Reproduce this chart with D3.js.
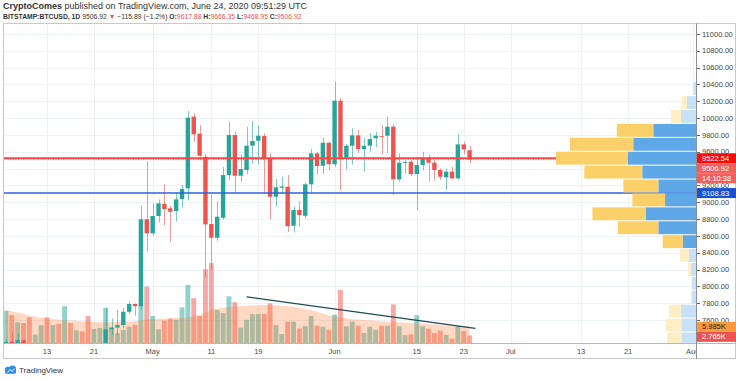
<!DOCTYPE html>
<html><head><meta charset="utf-8">
<script src="https://cdn.jsdelivr.net/npm/d3@7"></script>
<style>body{margin:0;background:#fff}svg{display:block}text{font-family:"Liberation Sans",Arial,sans-serif}</style>
</head><body><svg id="c" width="736" height="379"></svg>
<script>
const dates = ["2020-04-06","2020-04-07","2020-04-08","2020-04-09","2020-04-10","2020-04-11","2020-04-12","2020-04-13","2020-04-14","2020-04-15","2020-04-16","2020-04-17","2020-04-18","2020-04-19","2020-04-20","2020-04-21","2020-04-22","2020-04-23","2020-04-24","2020-04-25","2020-04-26","2020-04-27","2020-04-28","2020-04-29","2020-04-30",
"2020-05-01","2020-05-02","2020-05-03","2020-05-04","2020-05-05","2020-05-06","2020-05-07","2020-05-08","2020-05-09","2020-05-10","2020-05-11","2020-05-12","2020-05-13","2020-05-14","2020-05-15","2020-05-16","2020-05-17","2020-05-18","2020-05-19","2020-05-20","2020-05-21","2020-05-22","2020-05-23","2020-05-24","2020-05-25","2020-05-26","2020-05-27","2020-05-28","2020-05-29","2020-05-30","2020-05-31",
"2020-06-01","2020-06-02","2020-06-03","2020-06-04","2020-06-05","2020-06-06","2020-06-07","2020-06-08","2020-06-09","2020-06-10","2020-06-11","2020-06-12","2020-06-13","2020-06-14","2020-06-15","2020-06-16","2020-06-17","2020-06-18","2020-06-19","2020-06-20","2020-06-21","2020-06-22","2020-06-23","2020-06-24"];
const open = [6775,7340,7190,7360,7290,6865,6880,6910,6855,6860,6630,7110,7035,7255,7130,6845,6860,7125,7490,7510,7540,7698,7790,7765,8797,
8630,8836,8982,8927,8896,9038,9165,10017,9815,9541,8741,8578,8815,9323,9799,9315,9383,9672,9731,9787,9514,9065,9172,9184,8720,8907,8839,9213,9581,9434,9707,
9451,10207,9530,9672,9795,9629,9672,9760,9785,9791,9898,9272,9470,9482,9335,9442,9530,9470,9383,9296,9363,9284,9688,9617.88];
const high = [7371,7460,7430,7370,7300,6940,7200,6920,6985,6940,7195,7150,7300,7265,7220,6940,7150,7750,7620,7720,7745,7817,7798,8960,9490,
8990,9034,9213,8955,9117,9205,10084,10057,9918,9574,9086,9006,9422,9957,9840,9570,9898,9966,9910,9819,9581,9276,9303,9323,8950,9014,9230,9633,9600,9767,9720,
10433,10235,9690,9879,9858,9767,9826,9838,9918,10017,9926,9581,9500,9500,9541,9600,9560,9500,9400,9400,9420,9807,9719,9666.35];
const low = [6763,7080,7150,7115,6750,6780,6800,6560,6775,6620,6465,7000,7025,7060,6785,6810,6835,7030,7420,7420,7500,7670,7650,7730,8411,
8600,8760,8729,8530,8768,8940,9020,9720,9500,8114,8200,8540,8790,9260,9118,9244,9332,9463,9451,9106,8800,8947,9094,8649,8642,8708,8810,9118,9332,9332,9383,
9420,9137,9391,9450,9590,9363,9600,9653,9570,9581,9086,9244,9344,9312,8907,9380,9244,9260,9264,9145,9280,9270,9570,9468.95];
const close = [7340,7190,7360,7290,6865,6880,6910,6855,6860,6630,7110,7035,7255,7130,6845,6860,7125,7490,7510,7540,7698,7790,7765,8797,8630,
8836,8987,8919,8887,9034,9157,10005,9807,9553,8737,8578,8828,9323,9799,9315,9394,9672,9728,9791,9522,9065,9177,9188,8716,8907,8848,9213,9581,9430,9707,9451,
10207,9530,9672,9795,9633,9672,9751,9791,9775,9898,9272,9470,9480,9335,9442,9530,9470,9383,9303,9363,9284,9688,9629,9506.92];
const volumeK = [11.9,10.3,7.7,7.4,9.5,3.1,6.6,9.5,6.6,7.1,13.6,7.4,4.7,4.3,10.0,5.2,5.6,13.0,5.6,3.6,4.8,6.0,6.7,14.0,20.9,
10.0,5.1,8.3,9.0,8.6,13.2,21.5,16.6,10.0,27.3,29.6,12.2,11.1,17.3,15.1,5.7,8.6,10.7,10.7,10.7,14.7,6.6,3.3,7.9,7.9,5.3,6.2,10.0,6.4,6.0,4.9,
10.5,19.6,6.2,7.9,6.4,3.7,6.0,4.9,6.4,6.4,14.3,6.2,2.9,3.2,10.3,6.2,5.3,3.7,4.6,3.0,1.6,6.2,4.4,2.765];
const volumeMA = [12.2,11.8,11.3,10.8,10.2,9.7,9.4,
9.1,8.9,8.6,8.5,8.3,8.2,8.0,7.9,7.8,7.7,
7.7,7.7,7.8,7.8,7.9,8.1,8.4,8.7,8.9,9.0,
9.1,9.2,9.3,9.3,9.4,9.8,10.4,11.4,12.4,12.8,
13.1,13.3,13.5,13.6,13.8,13.9,14.0,14.1,14.1,14.0,
13.8,13.6,13.4,13.1,12.6,12.1,11.6,11.0,10.3,9.7,
9.4,9.2,8.9,8.7,8.5,8.4,8.2,8.1,7.9,7.8,
7.7,7.6,7.4,7.3,7.2,7.0,6.9,6.7,6.5,6.3,
6.2,6.0,5.985];
const priceTicks = [11000,10800,10600,10400,10200,10000,9800,9600,9400,9200,9000,8800,8600,8400,8200,8000,7800,7600];
const timeTickDates = ["2020-04-13","2020-04-21","2020-05-01","2020-05-11","2020-05-19","2020-06-01","2020-06-15","2020-06-23","2020-07-01","2020-07-13","2020-07-21","2020-08-01"];
const timeTickLabels = ["13","21","May","11","19","Jun","15","23","Jul","13","21","Aug"];
// volume profile rows (from top of range), up / down volume
const vpUp = [1.9,6.6,10.7,30.5,44.8,48.8,38.4,26.9,22.1,35.9,26.9,9.5,5.0,3.8,2.9,3.1,10.9,10.5,10.0];
const vpDown = [0,3.6,7.1,26.1,45.2,51.2,41.4,25.0,23.4,38.1,28.8,14.3,6.4,2.1,0.4,0.7,8.4,10.9,10.7];
const vpRows = 24;
const vpValueArea = [3,11];
const resistance = 9522.54, support = 9108.83;
const lastPrice = 9506.92, countdown = "14:10:38";
const trendDates = ["2020-05-17","2020-06-25"], trendVols = [17.1,5.4];

const svg = d3.select("#c");
const P = {l:3, r:696, t:24, b:343};
const parse = d3.utcParse("%Y-%m-%d");
const x = d3.scaleUtc().domain([parse("2020-04-13"), parse("2020-07-01")]).range([47, 510.7]);
const y = d3.scaleLinear().domain([7600, 11000]).range([320, 34]);
const yv = d3.scaleLinear().domain([0, 30]).range([P.b, 262]);
const data = dates.map((d,i)=>({t:parse(d),o:open[i],h:high[i],l:low[i],c:close[i],v:volumeK[i],ma:volumeMA[i]}));

const defs = svg.append("defs");
defs.append("clipPath").attr("id","pane").append("rect").attr("x",P.l).attr("y",P.t).attr("width",P.r-P.l).attr("height",P.b-P.t);
defs.append("clipPath").attr("id","taxis").append("rect").attr("x",P.l).attr("y",P.b).attr("width",P.r-P.l).attr("height",16);

// header
const h1 = svg.append("text").attr("x",3).attr("y",9).attr("font-size",9).attr("fill","#333");
h1.append("tspan").attr("font-weight","bold").text("CryptoComes");
h1.append("tspan").text(" published on TradingView.com, June 24, 2020 09:51:29 UTC");
const h2 = svg.append("text").attr("x",3).attr("y",18.5).attr("font-size",6.8).attr("fill","#333");
h2.append("tspan").attr("font-weight","bold").text("BITSTAMP:BTCUSD, 1D");
h2.append("tspan").text(" 9506.92 ");
h2.append("tspan").attr("fill","#ef5350").text("▼");
h2.append("tspan").text(" −115.89 (−1.2%) ");
[["O:","9617.88"],["H:","9666.35"],["L:","9468.95"],["C:","9506.92"]].forEach(([k,v],i)=>{
  h2.append("tspan").attr("font-weight","bold").text((i?" ":"")+k);
  h2.append("tspan").attr("fill","#ef5350").text(v);
});

// grid
const g = svg.append("g");
g.selectAll(".hg").data(priceTicks).join("line").attr("x1",P.l).attr("x2",P.r)
  .attr("y1",d=>Math.round(y(d))+0.5).attr("y2",d=>Math.round(y(d))+0.5).attr("stroke","#eef1f6");
g.selectAll(".vg").data(timeTickDates).join("line").attr("y1",P.t).attr("y2",P.b)
  .attr("x1",d=>Math.round(x(parse(d)))+0.5).attr("x2",d=>Math.round(x(parse(d)))+0.5).attr("stroke","#eef1f6");

const pane = svg.append("g").attr("clip-path","url(#pane)");
// volume bars
pane.selectAll(".vb").data(data).join("rect")
  .attr("x",d=>x(d.t)-2.45).attr("width",4.9).attr("y",d=>yv(d.v)).attr("height",d=>P.b-yv(d.v))
  .attr("fill",d=>d.c>=d.o?"rgba(38,166,154,0.5)":"rgba(239,83,80,0.5)");
// volume MA area
pane.append("path").datum(data).attr("fill","rgba(255,120,40,0.28)")
  .attr("d",d3.area().x(d=>x(d.t)).y0(P.b).y1(d=>yv(d.ma)));
// trend line
pane.append("line").attr("x1",x(parse(trendDates[0]))).attr("y1",yv(trendVols[0]))
  .attr("x2",x(parse(trendDates[1]))).attr("y2",yv(trendVols[1])).attr("stroke","#1d4b57").attr("stroke-width",1.4);
// candles
const cg = pane.append("g");
cg.selectAll(".wk").data(data).join("line")
  .attr("x1",d=>Math.round(x(d.t))+0.5).attr("x2",d=>Math.round(x(d.t))+0.5)
  .attr("y1",d=>y(d.h)).attr("y2",d=>y(d.l))
  .attr("stroke",d=>d.c>=d.o?"#26a69a":"#ef5350").attr("stroke-opacity",0.6);
cg.selectAll(".bd").data(data).join("rect")
  .attr("x",d=>x(d.t)-2.2).attr("width",4.4)
  .attr("y",d=>Math.min(y(d.o),y(d.c))).attr("height",d=>Math.max(1,Math.abs(y(d.o)-y(d.c))))
  .attr("fill",d=>d.c>=d.o?"#26a69a":"#ef5350");
// horizontal levels
pane.append("line").attr("x1",P.l).attr("x2",P.r).attr("y1",y(resistance)).attr("y2",y(resistance)).attr("stroke","#f44848").attr("stroke-width",2);
pane.append("line").attr("x1",P.l).attr("x2",P.r).attr("y1",y(lastPrice)).attr("y2",y(lastPrice)).attr("stroke","#ef5350").attr("stroke-dasharray","1,1.5").attr("stroke-opacity",0.7);
pane.append("line").attr("x1",P.l).attr("x2",P.r).attr("y1",y(support)).attr("y2",y(support)).attr("stroke","#2d62e0").attr("stroke-width",1.5);

// volume profile
const vpHi = d3.max(high), vpLo = d3.min(low), step = (vpHi-vpLo)/vpRows;
const wS = d3.scaleLinear().domain([0,100]).range([0,140]);
const vp = pane.append("g");
vpUp.forEach((u,i)=>{
  const top = y(vpHi - i*step), bot = y(vpHi-(i+1)*step);
  const inVA = i>=vpValueArea[0] && i<=vpValueArea[1];
  const dn = vpDown[i];
  vp.append("rect").attr("x",P.r-wS(u)).attr("width",wS(u)).attr("y",top+0.5).attr("height",bot-top-1)
    .attr("fill",inVA?"#5ea8e8":"#c8e1f7");
  if(dn>0) vp.append("rect").attr("x",P.r-wS(u+dn)).attr("width",wS(dn)).attr("y",top+0.5).attr("height",bot-top-1)
    .attr("fill",inVA?"#fbd068":"#fdeec4");
});

// frame
svg.append("rect").attr("x",3.5).attr("y",23.5).attr("width",732).attr("height",335).attr("fill","none").attr("stroke","#c9c9c9");
svg.append("line").attr("x1",3).attr("x2",736).attr("y1",343.5).attr("y2",343.5).attr("stroke","#b8b8b8");
svg.append("line").attr("x1",696.5).attr("x2",696.5).attr("y1",23.5).attr("y2",359).attr("stroke","#8f8f8f");

// price axis
const ax = svg.append("g");
priceTicks.forEach(p=>{
  ax.append("line").attr("x1",697).attr("x2",700).attr("y1",Math.round(y(p))+0.5).attr("y2",Math.round(y(p))+0.5).attr("stroke","#666");
  ax.append("text").attr("x",702).attr("y",y(p)).attr("dy","0.35em").attr("font-size",7.5).attr("fill","#444").text(d3.format(".2f")(p));
});
// time axis
const ta = svg.append("g").attr("clip-path","url(#taxis)");
timeTickDates.forEach((d,i)=>{
  ta.append("text").attr("x",x(parse(d))).attr("y",354).attr("text-anchor","middle").attr("font-size",7.5).attr("fill","#4a4a4a").text(timeTickLabels[i]);
});

// right-side labels with collision stacking
function boxes(list, minGap){
  list.sort((a,b)=>a.y-b.y);
  for(let i=1;i<list.length;i++) if(list[i].y<list[i-1].y+minGap) list[i].y=list[i-1].y+minGap;
  list.forEach(b=>{
    ax.append("rect").attr("x",697).attr("y",b.y-5).attr("width",39).attr("height",10).attr("fill",b.bg);
    ax.append("text").attr("x",702).attr("y",b.y).attr("dy","0.35em").attr("font-size",7.5).attr("fill",b.fg).text(b.t);
  });
}
boxes([
  {y:y(resistance),t:d3.format(".2f")(resistance),bg:"#ff0a0a",fg:"#fff"},
  {y:y(lastPrice)+0.01,t:d3.format(".2f")(lastPrice),bg:"#f25f5c",fg:"#fff"},
  {y:y(lastPrice)+0.02,t:countdown,bg:"#f25f5c",fg:"#fff"},
  {y:y(support),t:d3.format(".2f")(support),bg:"#1b50d3",fg:"#fff"}
],10);
boxes([
  {y:yv(volumeMA[volumeMA.length-1]),t:"5.985K",bg:"#fb9a3c",fg:"#222"},
  {y:yv(volumeK[volumeK.length-1]),t:"2.765K",bg:"#ef5350",fg:"#fff"}
],10);

// footer
const lg = svg.append("g").attr("fill","#2f8fe8");
lg.append("circle").attr("cx",8).attr("cy",370).attr("r",3.2);
lg.append("circle").attr("cx",12.5).attr("cy",369).attr("r",3.6);
lg.append("rect").attr("x",5).attr("y",370).attr("width",11).attr("height",3.8).attr("rx",1.5);
svg.append("path").attr("d","M7.5 372.5 L10 369.5 L12 371.5 L14.5 368.5").attr("fill","none").attr("stroke","#fff").attr("stroke-width",0.9);
svg.append("text").attr("x",19).attr("y",373).attr("font-size",8).attr("fill","#333").text("TradingView");
</script></body></html>
